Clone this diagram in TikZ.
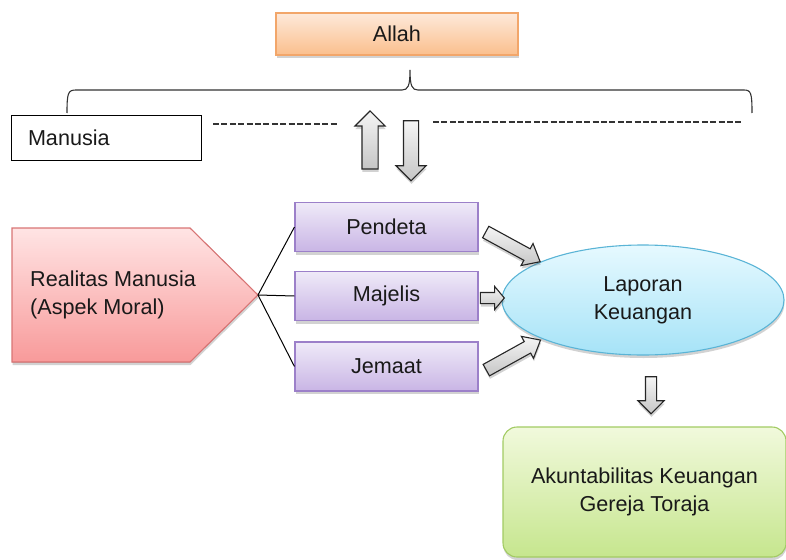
\documentclass[tikz,border=0pt]{standalone}
\usepackage{fontspec}
\setmainfont{Liberation Sans}
\usetikzlibrary{shapes.geometric,shapes.arrows,shadows}

\definecolor{orangetop}{HTML}{FDE9DA}
\definecolor{orangebot}{HTML}{FBBF8D}
\definecolor{orangeline}{HTML}{F2A66A}
\definecolor{redtop}{HTML}{FFE4E4}
\definecolor{redbot}{HTML}{F89A9A}
\definecolor{redline}{HTML}{D87474}
\definecolor{purpletop}{HTML}{EFEAF8}
\definecolor{purplebot}{HTML}{C9B5E5}
\definecolor{purpleline}{HTML}{9C80C9}
\definecolor{bluetop}{HTML}{E6F9FF}
\definecolor{bluebot}{HTML}{A6E3F7}
\definecolor{blueline}{HTML}{5AB4D6}
\definecolor{greentop}{HTML}{F1F9DC}
\definecolor{greenbot}{HTML}{C6E68E}
\definecolor{greenline}{HTML}{A2CB63}

\begin{document}
\begin{tikzpicture}[x=1pt,y=-1pt]
\tikzstyle{every node}+=[inner sep=0pt, font=\fontsize{21.6}{28}\selectfont, text=black!90]
\tikzstyle{softshadow}=[drop shadow={shadow xshift=0.5pt, shadow yshift=-3pt, opacity=0.25, fill=black!70}]
\tikzstyle{box}=[draw, line width=1.1pt, softshadow]
\tikzstyle{rolebox}=[box, draw=purpleline, top color=purpletop, bottom color=purplebot, minimum width=183, minimum height=49]
\tikzstyle{blockarrow}=[single arrow, draw=black!85, line width=1.1pt, top color=gray!8, bottom color=gray!45, minimum width=0pt, single arrow tip angle=90, softshadow]
\tikzstyle{hyph}=[line width=2pt, black!80, dash pattern=on 6pt off 2.4pt]
\useasboundingbox (0,0) rectangle (786,559);

\node [box, draw=orangeline, top color=orangetop, bottom color=orangebot, minimum width=242, minimum height=42] (allah) at (397,34) {Allah};
\draw [black!80, line width=1.1pt] (67,113) .. controls (67,93) and (68,90) .. (76,90) -- (402,90) .. controls (408,90) and (410,86) .. (410,70) .. controls (410,86) and (412,90) .. (418,90) -- (744,90) .. controls (751,90) and (752,93) .. (752,113);
\node [draw, line width=0.8pt, fill=white, minimum width=190, minimum height=45, text width=156, align=left] (manusia) at (106,137.5) {Manusia};
\draw [hyph] (213,124) -- (338,124);
\draw [hyph] (433,122) -- (742,122);
\node [blockarrow, rotate=90, minimum height=58, inner ysep=7.5pt, single arrow head extend=7pt] (naik) at (370,144) {};
\node [blockarrow, rotate=-90, minimum height=60, inner ysep=7pt, single arrow head extend=7.5pt] (turun) at (411,147) {};

\filldraw [draw=redline, line width=1.1pt, top color=redtop, bottom color=redbot, softshadow] (12,228) -- (190,228) -- (258,295) -- (190,362) -- (12,362) -- cycle;
\node [anchor=west, align=left] (realitas) at (30,295) {Realitas Manusia\\(Aspek Moral)};
\coordinate (realtip) at (258,295);

\node [rolebox] (pendeta) at (386.5,227) {Pendeta};
\node [rolebox] (majelis) at (386.5,296) {Majelis};
\node [rolebox] (jemaat) at (386.5,366.5) {Jemaat};
\draw [black, line width=1pt] (realtip) -- (pendeta.west);
\draw [black, line width=1pt] (realtip) -- (majelis.west);
\draw [black, line width=1pt] (realtip) -- (jemaat.west);

\node [ellipse, box, draw=blueline, top color=bluetop, bottom color=bluebot, minimum width=282, minimum height=110, align=center] (laporan) at (643,300) {Laporan\\Keuangan};
\node [blockarrow, rotate=-28.6, minimum height=62, inner ysep=6pt, single arrow head extend=6pt, single arrow tip angle=80] (fromp) at (509.5,245) {};
\node [blockarrow, minimum height=24, inner ysep=5pt, single arrow head extend=6pt, single arrow tip angle=100] (fromm) at (490,298) {};
\node [blockarrow, rotate=29, minimum height=62, inner ysep=6pt, single arrow head extend=6pt, single arrow tip angle=80] (fromj) at (510,357) {};
\node [blockarrow, rotate=-90, minimum height=37, inner ysep=5pt, single arrow head extend=7.5pt] (tolap) at (651,392.5) {};

\node [box, rounded corners=14pt, draw=greenline, top color=greentop, bottom color=greenbot, minimum width=283, minimum height=130, align=center] (akun) at (644.5,492) {Akuntabilitas Keuangan\\Gereja Toraja};
\end{tikzpicture}
\end{document}
